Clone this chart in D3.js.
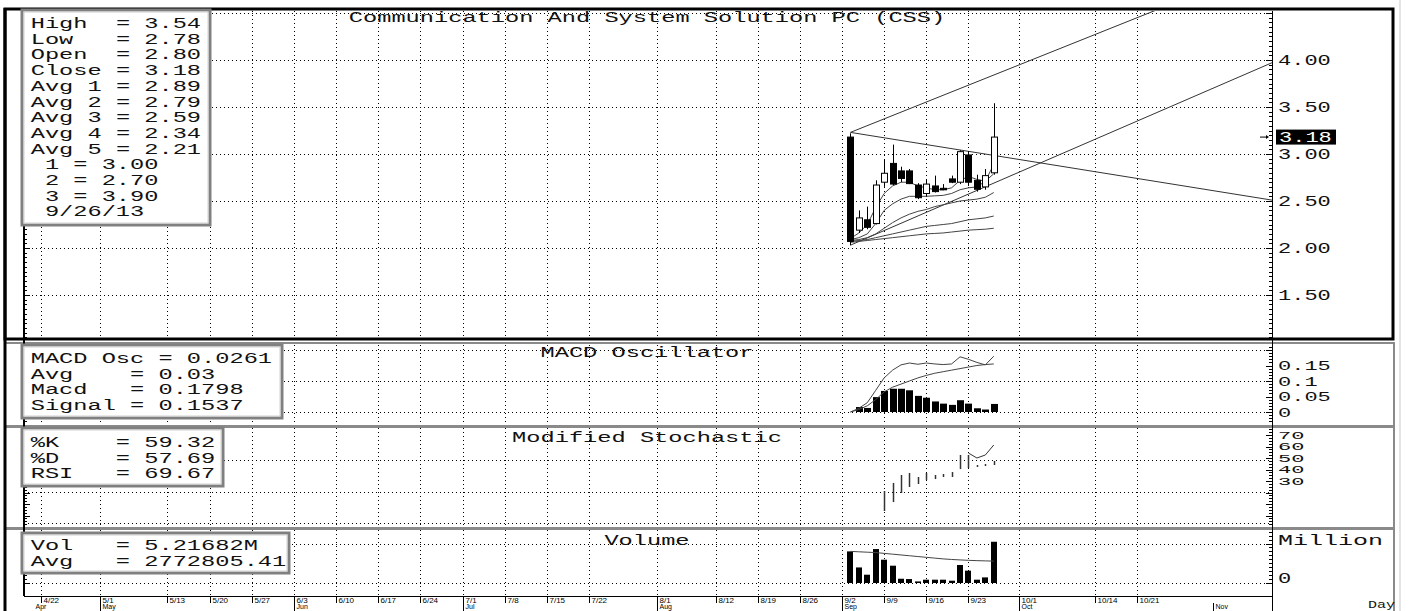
<!DOCTYPE html>
<html>
<head>
<meta charset="utf-8">
<script src="https://cdnjs.cloudflare.com/ajax/libs/d3/7.8.5/d3.min.js"></script>
<style>
body { margin: 0; background: #fff; }
svg { display: block; }
</style>
</head>
<body>
<script>
// ---- data ----
const startDate = "4/22/2013";
const candleDates = ["9/3/2013","9/4/2013","9/5/2013","9/6/2013","9/9/2013","9/10/2013","9/11/2013","9/12/2013","9/13/2013",
    "9/16/2013","9/17/2013","9/18/2013","9/19/2013","9/20/2013","9/23/2013","9/24/2013","9/25/2013","9/26/2013"];
const open  = [3.18, 2.19, 2.30, 2.26, 2.70, 2.90, 2.82, 2.82, 2.67, 2.58, 2.66, 2.635, 2.735, 2.70, 2.99, 2.72, 2.65, 2.80];
const high  = [3.22, 2.40, 2.44, 2.72, 2.94, 3.10, 2.865, 2.84, 2.69, 2.73, 2.77, 2.68, 2.77, 3.04, 3.03, 2.78, 2.84, 3.54];
const low   = [2.03, 2.16, 2.20, 2.25, 2.65, 2.67, 2.70, 2.68, 2.52, 2.545, 2.59, 2.615, 2.69, 2.68, 2.66, 2.60, 2.62, 2.78];
const close = [2.07, 2.32, 2.22, 2.67, 2.795, 2.68, 2.74, 2.685, 2.535, 2.68, 2.60, 2.62, 2.70, 3.025, 2.70, 2.625, 2.77, 3.18];

const avg1 = [2.10, 2.16, 2.25, 2.43, 2.58, 2.66, 2.70, 2.70, 2.66, 2.64, 2.62, 2.62, 2.64, 2.72, 2.76, 2.73, 2.71, 2.89];
const avg2 = [2.09, 2.11, 2.15, 2.26, 2.40, 2.47, 2.52, 2.55, 2.55, 2.55, 2.555, 2.56, 2.58, 2.62, 2.64, 2.65, 2.71, 2.79];
const avg3 = [2.08, 2.09, 2.11, 2.15, 2.21, 2.27, 2.32, 2.36, 2.39, 2.41, 2.44, 2.46, 2.48, 2.50, 2.51, 2.52, 2.54, 2.59];
const avg4 = [2.07, 2.08, 2.09, 2.11, 2.13, 2.15, 2.17, 2.19, 2.21, 2.23, 2.24, 2.25, 2.26, 2.28, 2.30, 2.31, 2.32, 2.34];
const avg5 = [2.06, 2.07, 2.08, 2.09, 2.10, 2.11, 2.12, 2.13, 2.14, 2.15, 2.155, 2.16, 2.17, 2.18, 2.19, 2.195, 2.20, 2.21];

// trend lines: two points each, drawn on to the right axis
const trendLines = [
    { d0: "9/3/2013", p0: 3.23, d1: "9/26/2013", p1: 2.985 },
    { d0: "9/3/2013", p0: 2.03, d1: "9/26/2013", p1: 2.69 },
    { d0: "9/3/2013", p0: 3.23, d1: "9/26/2013", p1: 3.84 }
];

const macdOsc = [null, 0.016, 0.013, 0.048, 0.068, 0.075, 0.075, 0.070, 0.052, 0.046, 0.034, 0.027, 0.023, 0.038, 0.027, 0.012, 0.008, 0.026];
const macdLine = [0.0, 0.012, 0.03, 0.07, 0.11, 0.135, 0.152, 0.158, 0.154, 0.158, 0.155, 0.153, 0.155, 0.178, 0.17, 0.16, 0.152, 0.18];
const signalLine = [0.0, 0.008, 0.02, 0.04, 0.065, 0.08, 0.09, 0.10, 0.11, 0.118, 0.125, 0.13, 0.135, 0.14, 0.145, 0.15, 0.153, 0.155];

const stochHi = [null, null, null, null, 21.3, 28.3, 35.2, 37.0, 33.5, 37.0, 35.2, 36.1, 37.8, 52.6, 52.6, 43.9, 44.8, 47.4];
const stochLo = [null, null, null, null, 3.9, 11.7, 19.6, 24.8, 27.4, 30.9, 31.7, 33.5, 33.5, 40.4, 41.3, 42.2, 43.0, 43.9];
const stochK  = [null, null, null, null, null, null, null, null, null, null, null, null, null, null, 54.3, 50.0, 52.6, 61.3];

const volume    = [4.0, 1.97, 1.05, 4.3, 2.95, 2.19, 0.54, 0.50, 0.20, 0.42, 0.42, 0.42, 0.29, 2.28, 1.56, 0.42, 0.71, 5.22];
const volumeAvg = [4.0, 3.95, 3.9, 3.85, 3.75, 3.65, 3.55, 3.45, 3.35, 3.25, 3.15, 3.05, 2.98, 2.92, 2.87, 2.83, 2.80, 2.77];

const priceTicks = [4.00, 3.50, 3.00, 2.50, 2.00, 1.50];
const priceGrid = [4.5, 4.0, 3.5, 3.0, 2.5, 2.0, 1.5];
const macdTicks = [0.15, 0.1, 0.05, 0];
const macdGrid = [0, 0.1, 0.2];
const stochTicks = [70, 60, 50, 40, 30];
const volGrid = [0, 5];

const dateTicks = ["4/22","5/1","5/13","5/20","5/27","6/3","6/10","6/17","6/24","7/1","7/8","7/15","7/22",
    "8/1","8/12","8/19","8/26","9/2","9/9","9/16","9/23","10/1","10/14","10/21"];
const monthTicks = [["Apr","4/22"],["May","5/1"],["Jun","6/3"],["Jul","7/1"],["Aug","8/1"],["Sep","9/2"],["Oct","10/1"],["Nov","11/1"]];

const mainLegend = ["High  = 3.54","Low   = 2.78","Open  = 2.80","Close = 3.18","Avg 1 = 2.89","Avg 2 = 2.79",
    "Avg 3 = 2.59","Avg 4 = 2.34","Avg 5 = 2.21"," 1 = 3.00"," 2 = 2.70"," 3 = 3.90"," 9/26/13"];
const macdLegend = ["MACD Osc = 0.0261","Avg    = 0.03","Macd   = 0.1798","Signal = 0.1537"];
const stochLegend = ["%K    = 59.32","%D    = 57.69","RSI   = 69.67"];
const volLegend = ["Vol   = 5.21682M","Avg   = 2772805.41"];
const lastClose = 3.18;

// ---- layout ----
const WIDTH = 1413, HEIGHT = 611;
const PLOT = { left: 24, right: 1272, axisY: 596 };
const PANELS = {
    main:  { top: 11, bottom: 338 },
    macd:  { top: 345, bottom: 425 },
    stoch: { top: 428, bottom: 526 },
    vol:   { top: 530, bottom: 596 }
};
const CHAR_W = 14.2;
const MONO = '"Liberation Mono", "DejaVu Sans Mono", monospace';
const SANS = '"Liberation Sans", Arial, sans-serif';

const parseDate = d3.timeParse("%m/%d/%Y");
const base = parseDate(startDate);
// trading-day slot: count weekdays since the first date on the axis
function dayIndex(s) {
    if (s.split("/").length === 2) s = s + "/2013";
    return d3.timeDay.range(base, parseDate(s)).filter(t => t.getDay() % 6 !== 0).length;
}

const x = d3.scaleLinear().domain([0, 146]).range([41, PLOT.right]);
const yMain = d3.scaleLinear().domain([1.5, 4.0]).range([295, 60]);
const yMacd = d3.scaleLinear().domain([0, 0.2]).range([412, 350]);
const yStoch = d3.scaleLinear().domain([30, 70]).range([481, 435]);
const yVol = d3.scaleLinear().domain([0, 5]).range([583, 543.5]);

const idx = candleDates.map(dayIndex);
const days = candleDates.map((d, i) => ({ i, x: Math.round(x(idx[i])) }));

const svg = d3.select('body').append('svg')
    .attr('width', WIDTH)
    .attr('height', HEIGHT);

svg.append('rect').attr('width', WIDTH).attr('height', HEIGHT).attr('fill', '#fff');

svg.append('defs').append('clipPath').attr('id', 'clipMain')
    .append('rect').attr('x', PLOT.left).attr('y', PANELS.main.top)
    .attr('width', PLOT.right - PLOT.left).attr('height', PANELS.main.bottom - PANELS.main.top);

function monoText(g, str, px, py, opts = {}) {
    return g.append('text')
        .attr('x', px).attr('y', py).attr('dy', '0.35em')
        .attr('font-family', MONO)
        .attr('font-size', opts.size || 14.5)
        .attr('fill', opts.fill || '#111')
        .attr('text-anchor', opts.anchor || 'start')
        .attr('textLength', str.length * (opts.cw || CHAR_W))
        .attr('lengthAdjust', 'spacingAndGlyphs')
        .text(str.replace(/ /g, '\u00A0'));
}

// ---- gridlines ----
const grid = svg.append('g').attr('stroke', '#000').attr('stroke-width', 1).attr('stroke-dasharray', '1,3');
Object.values(PANELS).forEach(p => {
    grid.selectAll(null).data(dateTicks).enter().append('line')
        .attr('x1', d => Math.round(x(dayIndex(d))) + 0.5).attr('x2', d => Math.round(x(dayIndex(d))) + 0.5)
        .attr('y1', p.top).attr('y2', p.bottom);
});
function hGrid(vals, scale) {
    grid.selectAll(null).data(vals).enter().append('line')
        .attr('x1', PLOT.left).attr('x2', PLOT.right)
        .attr('y1', d => Math.round(scale(d)) + 0.5).attr('y2', d => Math.round(scale(d)) + 0.5);
}
hGrid(priceGrid, yMain);
hGrid(macdGrid, yMacd);
hGrid(volGrid, yVol);
// stochastic grid sits at thirds of the panel
hGrid([0, 1, 2], d => 460 + d * 31.5);

// ---- main panel: trend lines, averages, candles ----
const main = svg.append('g').attr('clip-path', 'url(#clipMain)');

main.selectAll('.trend').data(trendLines).enter().append('line')
    .attr('class', 'trend')
    .attr('stroke', '#333').attr('stroke-width', 1)
    .attr('x1', d => x(dayIndex(d.d0)))
    .attr('y1', d => yMain(d.p0))
    .attr('x2', x(146))
    .attr('y2', d => {
        const i0 = dayIndex(d.d0), i1 = dayIndex(d.d1);
        return yMain(d.p0 + (d.p1 - d.p0) / (i1 - i0) * (146 - i0));
    });

const avgLine = d3.line().x((d, i) => x(idx[i])).y(d => yMain(d));
[avg1, avg2, avg3, avg4, avg5].forEach(a => {
    main.append('path').datum(a).attr('d', avgLine)
        .attr('fill', 'none').attr('stroke', '#444').attr('stroke-width', 1);
});

const candles = main.selectAll('.candle').data(days).enter().append('g').attr('class', 'candle');
candles.append('line')
    .attr('x1', d => d.x + 0.5).attr('x2', d => d.x + 0.5)
    .attr('y1', d => yMain(high[d.i])).attr('y2', d => yMain(low[d.i]))
    .attr('stroke', '#000').attr('stroke-width', 1);
candles.append('rect')
    .attr('x', d => d.x - 2.5)
    .attr('width', 6)
    .attr('y', d => yMain(Math.max(open[d.i], close[d.i])))
    .attr('height', d => Math.max(1.5, yMain(Math.min(open[d.i], close[d.i])) - yMain(Math.max(open[d.i], close[d.i]))))
    .attr('fill', d => close[d.i] >= open[d.i] ? '#fff' : '#000')
    .attr('stroke', '#000').attr('stroke-width', 1);

// ---- MACD panel ----
const macdG = svg.append('g');
macdG.selectAll('rect').data(days.filter(d => macdOsc[d.i] !== null)).enter().append('rect')
    .attr('x', d => d.x - 3)
    .attr('width', 7)
    .attr('y', d => yMacd(macdOsc[d.i]))
    .attr('height', d => yMacd(0) - yMacd(macdOsc[d.i]))
    .attr('fill', '#000');
[macdLine, signalLine].forEach(s => {
    macdG.append('path').datum(s)
        .attr('d', d3.line().x((d, i) => x(idx[i])).y(d => yMacd(d)))
        .attr('fill', 'none').attr('stroke', '#444').attr('stroke-width', 1);
});

// ---- stochastic panel ----
const stG = svg.append('g');
stG.selectAll('line').data(days.filter(d => stochHi[d.i] !== null)).enter().append('line')
    .attr('x1', d => d.x + 0.5).attr('x2', d => d.x + 0.5)
    .attr('y1', d => yStoch(stochHi[d.i]))
    .attr('y2', d => yStoch(stochLo[d.i]))
    .attr('stroke', '#333').attr('stroke-width', 1.5);
stG.append('path').datum(stochK)
    .attr('d', d3.line().defined(d => d !== null).x((d, i) => x(idx[i])).y(d => yStoch(d)))
    .attr('fill', 'none').attr('stroke', '#333').attr('stroke-width', 1);

// ---- volume panel ----
const volG = svg.append('g');
volG.selectAll('rect').data(days).enter().append('rect')
    .attr('x', d => d.x - 3)
    .attr('width', 6)
    .attr('y', d => yVol(volume[d.i]))
    .attr('height', d => yVol(0) - yVol(volume[d.i]))
    .attr('fill', '#000');
volG.append('path').datum(volumeAvg)
    .attr('d', d3.line().x((d, i) => x(idx[i])).y(d => yVol(d)))
    .attr('fill', 'none').attr('stroke', '#444').attr('stroke-width', 1);

// ---- frames ----
const frame = svg.append('g').attr('fill', 'none');
[[343, 426], [427, 528], [529, 612]].forEach(([t, b]) => {
    frame.append('rect').attr('x', 5).attr('y', t).attr('width', 1389).attr('height', b - t)
        .attr('stroke', '#8a8a8a').attr('stroke-width', 2);
});
frame.append('line').attr('x1', 1400).attr('x2', 1400).attr('y1', 0).attr('y2', HEIGHT)
    .attr('stroke', '#c8c8c8').attr('stroke-width', 1);
frame.append('rect').attr('x', 5).attr('y', 9).attr('width', 1388).attr('height', 330)
    .attr('stroke', '#000').attr('stroke-width', 3);
frame.append('line').attr('x1', 5).attr('x2', 5).attr('y1', 8).attr('y2', HEIGHT)
    .attr('stroke', '#000').attr('stroke-width', 3);

// ---- axes ----
const axes = svg.append('g').attr('stroke', '#000');
axes.append('line').attr('x1', PLOT.left).attr('x2', PLOT.left).attr('y1', 11).attr('y2', PLOT.axisY).attr('stroke-width', 2);
axes.append('line').attr('x1', PLOT.right + 0.5).attr('x2', PLOT.right + 0.5).attr('y1', 11).attr('y2', HEIGHT).attr('stroke-width', 1);
axes.append('line').attr('x1', PLOT.left).attr('x2', PLOT.right).attr('y1', PLOT.axisY + 0.5).attr('y2', PLOT.axisY + 0.5).attr('stroke-width', 1);

function minorTicks(vals, scale, p, majorEvery) {
    vals.forEach(v => {
        const yy = Math.round(scale(v)) + 0.5;
        if (yy < p.top || yy > p.bottom) return;
        const major = Math.abs(v / majorEvery - Math.round(v / majorEvery)) < 1e-6;
        axes.append('line').attr('x1', PLOT.right - (major ? 6 : 3)).attr('x2', PLOT.right).attr('y1', yy).attr('y2', yy).attr('stroke-width', 1);
        axes.append('line').attr('x1', PLOT.left).attr('x2', PLOT.left + (major ? 6 : 3)).attr('y1', yy).attr('y2', yy).attr('stroke-width', 1);
    });
}
minorTicks(d3.range(1.0, 4.6, 0.05), yMain, PANELS.main, 0.5);
minorTicks(d3.range(-0.03, 0.23, 0.01), yMacd, PANELS.macd, 0.05);
minorTicks(d3.range(-20, 90, 2.5), yStoch, PANELS.stoch, 10);
minorTicks(d3.range(0, 7, 0.5), yVol, PANELS.vol, 5);

// right axis labels
const lab = svg.append('g');
priceTicks.forEach(v => monoText(lab, v.toFixed(2), 1278, yMain(v), { cw: 13.2 }));
macdTicks.forEach(v => monoText(lab, String(v), 1278, yMacd(v), { cw: 13.2, size: 13 }));
stochTicks.forEach(v => monoText(lab, String(v), 1278, yStoch(v), { cw: 13.2, size: 10 }));
monoText(lab, "Million", 1278, 540, { cw: 15 });
monoText(lab, "0", 1278, yVol(0) - 5, { cw: 13.2 });

// last close marker
lab.append('rect').attr('x', 1276).attr('y', yMain(lastClose) - 7.5).attr('width', 60).attr('height', 15).attr('fill', '#000');
monoText(lab, lastClose.toFixed(2), 1279, yMain(lastClose), { cw: 13.2, fill: '#fff' });
lab.append('line').attr('x1', 1260).attr('x2', 1266).attr('y1', yMain(lastClose)).attr('y2', yMain(lastClose)).attr('stroke', '#000');
lab.append('path').attr('d', `M1266,${yMain(lastClose) - 2}L1269,${yMain(lastClose)}L1266,${yMain(lastClose) + 2}Z`).attr('fill', '#000');

// date axis
const dateG = svg.append('g');
dateTicks.forEach(d => {
    const xx = Math.round(x(dayIndex(d))) + 0.5;
    dateG.append('line').attr('x1', xx).attr('x2', xx).attr('y1', PLOT.axisY).attr('y2', 603).attr('stroke', '#000');
    dateG.append('text').attr('x', xx + 2).attr('y', 602.5)
        .attr('font-family', SANS).attr('font-size', 8).text(d);
});
monthTicks.forEach(([m, d]) => {
    const xx = Math.round(x(dayIndex(d))) + 0.5;
    if (m !== "Apr") dateG.append('line').attr('x1', xx).attr('x2', xx).attr('y1', 603).attr('y2', HEIGHT).attr('stroke', '#000');
    dateG.append('text').attr('x', m === "Apr" ? xx - 6 : xx + 2).attr('y', 609)
        .attr('font-family', SANS).attr('font-size', 7).text(m);
});
monoText(dateG, "Day", 1368, 604, { size: 10, cw: 9 });

// titles
const CENTER = 647;
monoText(svg, "Communication And System Solution PC (CSS)", CENTER, 17, { anchor: 'middle' });
monoText(svg, "MACD Oscillator", CENTER, 352, { anchor: 'middle' });
monoText(svg, "Modified Stochastic", CENTER, 437, { anchor: 'middle' });
monoText(svg, "Volume", CENTER, 540, { anchor: 'middle' });

// ---- legend boxes ----
function legendBox(rows, bx, by, bw, bh, firstY) {
    const g = svg.append('g');
    g.append('rect').attr('x', bx).attr('y', by).attr('width', bw).attr('height', bh)
        .attr('fill', '#fff').attr('stroke', '#808080').attr('stroke-width', 3);
    g.append('rect').attr('x', bx + 2).attr('y', by + 2).attr('width', bw - 4).attr('height', bh - 4)
        .attr('fill', 'none').attr('stroke', '#d0d0d0').attr('stroke-width', 1);
    rows.forEach((r, i) => monoText(g, r, 30.7, firstY + i * 15.7));
}
legendBox(mainLegend, 22, 10, 188, 215, 23);
legendBox(macdLegend, 22, 345, 260, 73, 358);
legendBox(stochLegend, 22, 428, 201, 58, 442);
legendBox(volLegend, 22, 533, 267, 40, 545);
</script>
</body>
</html>
